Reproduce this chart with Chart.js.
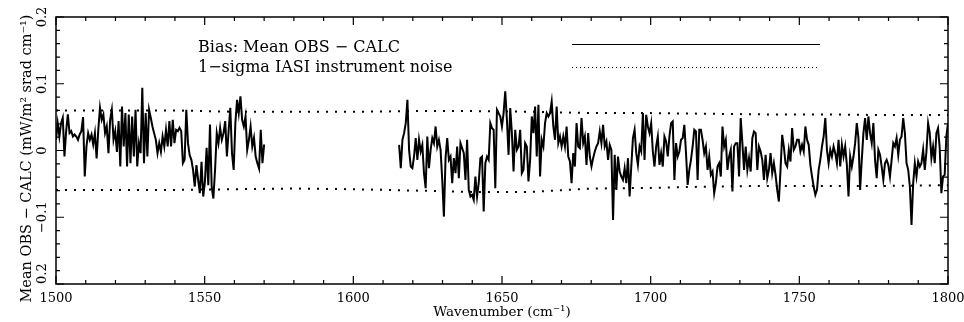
<!DOCTYPE html>
<html>
<head>
<meta charset="utf-8">
<script src="https://cdn.jsdelivr.net/npm/chart.js@4"></script>
<style>
  body { margin: 0; background: #fff; }
  canvas { display: block; }
</style>
</head>
<body>
<canvas id="biasChart" width="964" height="322"></canvas>
<script>
// bias OBS - CALC, first band piece (1500 - 1570 cm-1), evenly sampled
const seg1Start = 1500, seg1End = 1570;
const seg1Bias = [
  0.016, 0.041, 0.021, 0.041, 0.049, -0.009, 0.029, 0.054, 0.026, 0.029,
  0.021, 0.024, 0.021, 0.016, 0.024, 0.029, 0.050, -0.039, 0.006, 0.026,
  0.016, 0.024, 0.009, 0.026, -0.012, 0.031, 0.064, 0.046, 0.054, 0.026,
  0.036, -0.004, 0.046, 0.061, 0.016, 0.029, -0.002, 0.044, -0.024, 0.066,
  0.006, 0.056, -0.024, 0.054, -0.019, 0.051, -0.009, 0.061, -0.024, 0.011,
  -0.004, 0.094, -0.019, 0.056, -0.009, 0.061, 0.049, 0.036, 0.026, 0.016,
  -0.004, 0.011, -0.002, 0.021, 0.006, 0.031, 0.006, 0.044, 0.006, 0.046,
  0.011, 0.031, 0.029, 0.034, 0.029, -0.019, -0.014, 0.061, 0.011, -0.007,
  -0.014, -0.029, -0.054, -0.022, -0.044, -0.064, -0.017, -0.069, -0.047, 0.004,
  -0.052, 0.039, -0.054, -0.072, -0.029, 0.026, 0.011, 0.034, 0.016, 0.026,
  0.044, -0.009, 0.029, 0.064, -0.004, -0.029, 0.041, 0.076, 0.056, 0.081,
  0.046, 0.036, 0.051, 0.001, 0.016, 0.036, 0.006, 0.019, -0.009, -0.019,
  -0.027, 0.031, -0.019, 0.009
];

// second band piece (1615.4 - 1800 cm-1), evenly sampled
const seg2Start = 1615.4, seg2End = 1800;
const seg2Bias = [
  0.0085, -0.0265, 0.016, 0.026, 0.041, 0.076, 0.001, -0.024, -0.0265, -0.009,
  0.0185, -0.014, 0.016, -0.0015, 0.0085, -0.034, -0.0565, 0.021, -0.0265, 0.001,
  0.0185, 0.011, 0.036, 0.006, 0.016, 0.001, -0.044, -0.099, -0.0115, 0.0185,
  -0.014, -0.009, -0.049, -0.0115, -0.034, 0.006, -0.0415, 0.011, 0.0035, -0.004,
  -0.044, 0.016, -0.059, -0.069, -0.0665, -0.074, -0.039, -0.069, -0.049, -0.0115,
  -0.009, -0.0915, -0.019, -0.009, -0.014, 0.041, 0.0335, 0.031, -0.0565, 0.061,
  0.056, 0.051, 0.036, 0.056, 0.0885, 0.046, -0.0065, 0.0635, 0.026, -0.0315,
  0.031, 0.001, 0.006, 0.031, -0.034, -0.029, 0.011, 0.006, -0.0465, -0.014,
  0.051, 0.026, 0.066, -0.009, 0.0685, -0.039, 0.016, 0.006, 0.041, 0.056,
  0.051, 0.056, 0.0735, 0.036, 0.016, 0.066, 0.011, 0.021, 0.006, 0.021,
  0.006, 0.036, -0.009, -0.0165, -0.049, -0.004, -0.024, 0.041, 0.006, 0.0035,
  0.0485, 0.011, 0.021, -0.0215, 0.026, -0.009, -0.024, -0.0115, -0.0015, 0.006,
  0.011, 0.0285, 0.011, 0.0385, 0.006, 0.0135, -0.014, 0.0085, 0.001, -0.104,
  -0.0065, -0.059, -0.009, -0.0315, -0.039, -0.044, -0.0265, -0.049, -0.0115,
  -0.069, -0.024, 0.0185, 0.031, -0.004, -0.0215, 0.006, -0.0015, 0.056, -0.014,
  0.0535, 0.036, 0.026, 0.041, -0.0015, -0.024, 0.006, 0.021, -0.0215, -0.004,
  -0.024, 0.021, 0.0135, -0.009, 0.021, 0.041, 0.0435, -0.044, 0.011, -0.009,
  -0.0015, 0.016, 0.0185, 0.0385, -0.004, -0.0515, -0.029, -0.014, 0.006, 0.031,
  0.0285, -0.044, 0.031, 0.031, 0.016, -0.004, 0.006, -0.029, -0.009, -0.0365,
  -0.0315, -0.064, -0.049, -0.024, -0.019, -0.039, 0.036, 0.006, 0.016, -0.029,
  -0.009, 0.001, -0.0615, 0.006, 0.011, 0.011, -0.039, 0.0485, 0.011, -0.029,
  0.006, -0.029, -0.0115, -0.0315, 0.0185, 0.0285, 0.026, -0.029, 0.006, -0.0015,
  -0.014, -0.044, -0.0065, -0.0415, -0.029, -0.004, -0.034, -0.019, -0.0365, -0.059,
  -0.0765, -0.029, 0.0235, 0.006, -0.019, -0.024, 0.001, -0.0165, 0.0335, 0.001,
  0.006, 0.016, 0.016,
  -0.0015, 0.0085, -0.0015, 0.036, 0.016, 0.0085, -0.0215, -0.039, -0.054, -0.0665,
  -0.059, -0.029, -0.014, 0.006, 0.021, 0.0485, 0.001, -0.019, 0.001, -0.009,
  0.006, -0.004, -0.019, 0.016, -0.024, 0.0085, -0.009, 0.006, -0.0215, -0.069,
  -0.009, -0.024, -0.009, 0.011, 0.041, 0.0185, -0.059, -0.014, 0.026, 0.0485,
  0.016, 0.051, 0.026, 0.011, 0.041, -0.014, -0.0415, 0.001, -0.0065, -0.024,
  -0.044, -0.019, -0.014, -0.0215, -0.039, -0.014, 0.011, 0.006, 0.0185, -0.0065,
  0.016, 0.021, 0.0485, 0.026, -0.019, -0.029, -0.054, -0.1115, -0.049, -0.019,
  -0.039, -0.0165, -0.024, -0.019, 0.001, -0.029, -0.0015, 0.041, 0.026, -0.0115,
  0.006, -0.019, 0.026, 0.0335, 0.0035, -0.064, -0.039, -0.0365, 0.021, 0.041
];

// 1-sigma IASI instrument noise (+/-)
const noiseWn    = [1500, 1520, 1540, 1560, 1580, 1600, 1620, 1640, 1660, 1680, 1700, 1720, 1740, 1760, 1780, 1800];
const noiseUpper = [0.060, 0.060, 0.060, 0.058, 0.058, 0.058, 0.059, 0.059, 0.058, 0.056, 0.056, 0.055, 0.054, 0.054, 0.053, 0.053];
const noiseLower = [-0.059, -0.059, -0.059, -0.058, -0.057, -0.058, -0.060, -0.062, -0.062, -0.057, -0.056, -0.054, -0.053, -0.053, -0.053, -0.052];

const xTicks = [1500, 1550, 1600, 1650, 1700, 1750, 1800];
const xTickLabels = ['1500', '1550', '1600', '1650', '1700', '1750', '1800'];
const yTicks = [-0.2, -0.1, 0, 0.1, 0.2];
const yTickLabels = ['0.2', '\u22120.1', '0', '0.1', '0.2'];

const legendLabels = ['Bias: Mean OBS \u2212 CALC', '1\u2212sigma IASI instrument noise'];
const xTitle = 'Wavenumber (cm\u207B\u00B9)';
const yTitle = 'Mean OBS \u2212 CALC (mW/m\u00B2 srad cm\u207B\u00B9)';

const SERIF = '"DejaVu Serif", "Liberation Serif", serif';

function toPoints(start, end, vals) {
  const step = (end - start) / (vals.length - 1);
  return vals.map((v, i) => ({ x: start + i * step, y: v }));
}

const framePlugin = {
  id: 'pgframe',
  afterDraw(chart) {
    const { ctx, chartArea: a, scales: { x, y } } = chart;
    ctx.save();
    ctx.strokeStyle = '#000';
    ctx.fillStyle = '#000';
    ctx.lineWidth = 1.5;
    ctx.strokeRect(a.left, a.top, a.right - a.left, a.bottom - a.top);

    ctx.lineWidth = 1.2;
    ctx.beginPath();
    for (let w = x.min; w <= x.max + 0.01; w += 10) {
      const px = x.getPixelForValue(w);
      const len = (Math.round(w) % 50 === 0) ? 8 : 4;
      ctx.moveTo(px, a.bottom); ctx.lineTo(px, a.bottom - len);
      ctx.moveTo(px, a.top); ctx.lineTo(px, a.top + len);
    }
    for (let k = -10; k <= 10; k++) {
      const v = k * 0.02;
      const py = y.getPixelForValue(v);
      const len = (k % 5 === 0) ? 8 : 4;
      ctx.moveTo(a.left, py); ctx.lineTo(a.left + len, py);
      ctx.moveTo(a.right, py); ctx.lineTo(a.right - len, py);
    }
    ctx.stroke();

    // x tick labels
    ctx.font = '13px ' + SERIF;
    ctx.textAlign = 'center';
    ctx.textBaseline = 'alphabetic';
    xTicks.forEach((t, i) => {
      ctx.fillText(xTickLabels[i], x.getPixelForValue(t), a.bottom + 18);
    });

    // y tick labels, rotated
    yTicks.forEach((t, i) => {
      const py = y.getPixelForValue(t);
      ctx.save();
      ctx.translate(46, t === y.min ? a.bottom : py);
      ctx.rotate(-Math.PI / 2);
      ctx.textAlign = t === y.min ? 'left' : 'center';
      ctx.fillText(yTickLabels[i], 0, 0);
      ctx.restore();
    });

    // axis titles
    ctx.font = '13.5px ' + SERIF;
    ctx.textAlign = 'center';
    ctx.fillText(xTitle, (a.left + a.right) / 2, 316);
    ctx.save();
    ctx.translate(31, (a.top + a.bottom) / 2 + 8);
    ctx.rotate(-Math.PI / 2);
    ctx.font = '14.5px ' + SERIF;
    ctx.fillText(yTitle, 0, 0);
    ctx.restore();

    // legend
    ctx.font = '16px ' + SERIF;
    ctx.textAlign = 'left';
    ctx.fillText(legendLabels[0], 198, 52);
    ctx.fillText(legendLabels[1], 198, 72);
    ctx.lineWidth = 1;
    ctx.beginPath();
    ctx.moveTo(572, 44.5); ctx.lineTo(820, 44.5);
    ctx.stroke();
    ctx.setLineDash([1, 3]);
    ctx.beginPath();
    ctx.moveTo(572, 67.5); ctx.lineTo(820, 67.5);
    ctx.stroke();
    ctx.restore();
  }
};

const biasStyle = { borderColor: '#000', borderWidth: 2, pointRadius: 0, tension: 0, fill: false };
const noiseStyle = { borderColor: '#000', borderWidth: 2, borderDash: [2, 7], pointRadius: 0, tension: 0, fill: false };

new Chart(document.getElementById('biasChart'), {
  type: 'line',
  data: {
    datasets: [
      { label: 'Bias: Mean OBS - CALC', data: toPoints(seg1Start, seg1End, seg1Bias), ...biasStyle },
      { label: 'Bias: Mean OBS - CALC (2)', data: toPoints(seg2Start, seg2End, seg2Bias), ...biasStyle },
      { label: '1-sigma noise +', data: noiseWn.map((w, i) => ({ x: w, y: noiseUpper[i] })), ...noiseStyle },
      { label: '1-sigma noise -', data: noiseWn.map((w, i) => ({ x: w, y: noiseLower[i] })), ...noiseStyle }
    ]
  },
  options: {
    responsive: false,
    animation: false,
    layout: { padding: { left: 56, right: 16, top: 17, bottom: 38 } },
    plugins: { legend: { display: false }, tooltip: { enabled: false } },
    scales: {
      x: { type: 'linear', min: 1500, max: 1800, display: false },
      y: { type: 'linear', min: -0.2, max: 0.2, display: false }
    }
  },
  plugins: [framePlugin]
});
</script>
</body>
</html>
